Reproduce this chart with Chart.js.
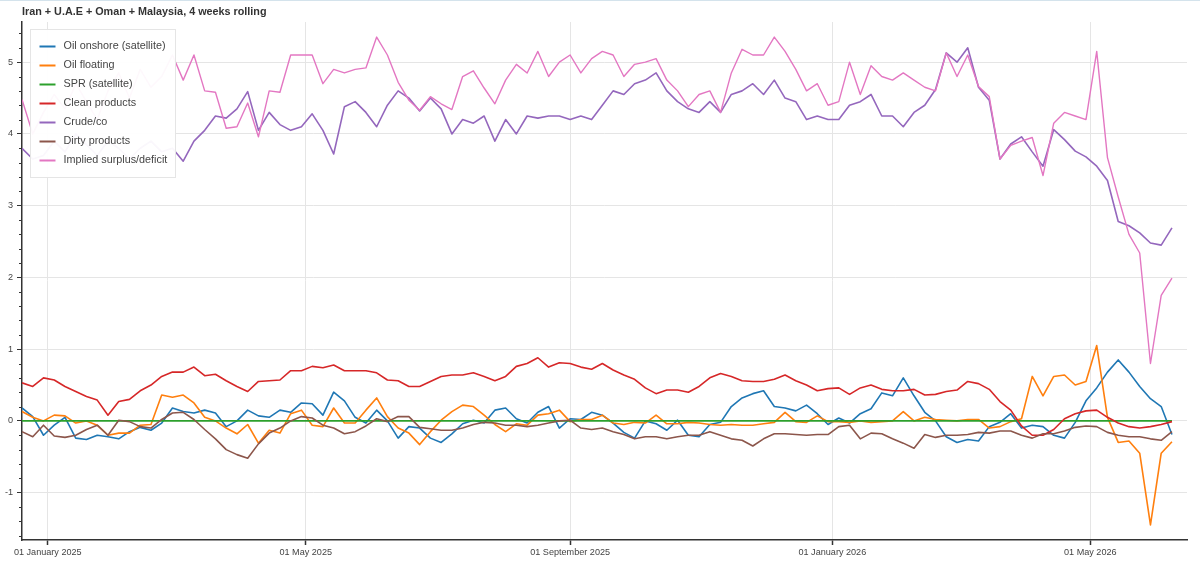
<!DOCTYPE html>
<html>
<head>
<meta charset="utf-8">
<script src="https://cdn.jsdelivr.net/npm/chart.js@4.4.1/dist/chart.umd.min.js"></script>
<style>
    html, body { margin: 0; padding: 0; background: #fff; }
    #wrap { position: relative; width: 1200px; height: 565px; }
    #topline { position: absolute; left: 0; top: 0; width: 1200px; height: 1px; background: #d4e3ec; }
</style>
</head>
<body>
<div id="wrap">
    <canvas id="chart"></canvas>
    <div id="topline"></div>
</div>
<script>
// Dates: one point every 5 days, first point 20 Dec 2024 (day -12 from 01 Jan 2025)
const startDay = -12;
const dayStep = 5;

const tickDays = [0, 120, 243, 365, 485];
const tickLabels = ["01 January 2025", "01 May 2025", "01 September 2025", "01 January 2026", "01 May 2026"];
const yTicks = [-1, 0, 1, 2, 3, 4, 5];

const seriesNames = ["Oil onshore (satellite)", "Oil floating", "SPR (satellite)", "Clean products",
    "Crude/co", "Dirty products", "Implied surplus/deficit"];
const seriesColors = ["#1f77b4", "#ff7f0e", "#2ca02c", "#d62728", "#9467bd", "#8c564b", "#e377c2"];

const oilOnshore = [
    0.18, 0.06, -0.2, -0.06, 0.05, -0.24, -0.26, -0.2, -0.22, -0.25,
    -0.15, -0.09, -0.13, -0.03, 0.18, 0.13, 0.11, 0.15, 0.11, -0.08,
    0.0, 0.15, 0.07, 0.05, 0.15, 0.12, 0.25, 0.24, 0.08, 0.4,
    0.28, 0.05, -0.03, 0.15, 0.0, -0.24, -0.08, -0.1, -0.24, -0.3,
    -0.18, -0.04, 0.01, -0.03, 0.15, 0.18, 0.03, -0.03, 0.12, 0.2,
    -0.1, 0.03, 0.02, 0.12, 0.08, -0.03, -0.16, -0.24, 0.0, -0.04,
    -0.13, 0.01, -0.2, -0.22, -0.05, -0.02, 0.2, 0.32, 0.38, 0.42,
    0.2, 0.18, 0.14, 0.22, 0.1, -0.05, 0.04, -0.03, 0.1, 0.17,
    0.39, 0.35, 0.6, 0.35, 0.12, 0.0, -0.22, -0.3, -0.26, -0.28,
    -0.08, -0.02, 0.1, -0.1, -0.06, -0.08, -0.2, -0.24, -0.02, 0.28,
    0.46, 0.68, 0.85, 0.68, 0.48, 0.31, 0.2, -0.19
];

const oilFloating = [
    0.13, 0.05, 0.0, 0.08, 0.07, -0.03, 0.0, -0.06, -0.2, -0.17,
    -0.17, -0.06, -0.05, 0.36, 0.33, 0.36, 0.25, 0.05, 0.0, -0.1,
    -0.18, -0.05, -0.31, -0.13, -0.17, 0.1, 0.15, -0.06, -0.08, 0.18,
    -0.03, -0.03, 0.15, 0.32, 0.06, -0.1, -0.17, -0.33, -0.15, 0.01,
    0.13, 0.22, 0.2, 0.08, -0.05, -0.15, -0.04, -0.06, 0.08, 0.1,
    0.15, -0.01, 0.02, 0.02, 0.08, -0.03, -0.05, -0.02, -0.03, 0.08,
    -0.04, -0.04, -0.02, -0.03, -0.05, -0.06, -0.05, -0.06, -0.06, -0.04,
    -0.02, 0.12, -0.01, -0.02, 0.07, -0.01, -0.01, -0.02, 0.0, -0.02,
    -0.01, 0.0, 0.13, 0.0, 0.05, 0.02, 0.01, 0.0, 0.02, 0.02,
    -0.1, -0.08, -0.01, 0.03, 0.62, 0.35, 0.62, 0.64, 0.5, 0.55,
    1.05, 0.05, -0.3, -0.28, -0.45, -1.45, -0.45, -0.29
];

const sprSatellite = [
    0, 0, 0, 0, 0, 0, 0, 0, 0, 0,
    0, 0, 0, 0, 0, 0, 0, 0, 0, 0,
    0, 0, 0, 0, 0, 0, 0, 0, 0, 0,
    0, 0, 0, 0, 0, 0, 0, 0, 0, 0,
    0, 0, 0, 0, 0, 0, 0, 0, 0, 0,
    0, 0, 0, 0, 0, 0, 0, 0, 0, 0,
    0, 0, 0, 0, 0, 0, 0, 0, 0, 0,
    0, 0, 0, 0, 0, 0, 0, 0, 0, 0,
    0, 0, 0, 0, 0, 0, 0, 0, 0, 0,
    0, 0, 0, 0, 0, 0, 0, 0, 0, 0,
    0, 0, 0, 0, 0, 0, 0, 0
];

const cleanProducts = [
    0.53, 0.48, 0.6, 0.57, 0.48, 0.41, 0.34, 0.29, 0.08, 0.27,
    0.3, 0.42, 0.5, 0.62, 0.68, 0.68, 0.75, 0.63, 0.65, 0.56,
    0.48, 0.41, 0.55, 0.56, 0.57, 0.7, 0.7, 0.76, 0.74, 0.78,
    0.7, 0.7, 0.7, 0.67, 0.57, 0.56, 0.48, 0.48, 0.55, 0.62,
    0.64, 0.64, 0.67, 0.62, 0.56, 0.62, 0.76, 0.8, 0.88, 0.75,
    0.81, 0.8, 0.75, 0.72, 0.8, 0.71, 0.64, 0.58, 0.46, 0.38,
    0.43, 0.43, 0.4, 0.48, 0.6, 0.66, 0.62, 0.56, 0.55, 0.55,
    0.58, 0.64, 0.56, 0.5, 0.42, 0.45, 0.46, 0.37, 0.46, 0.5,
    0.44, 0.42, 0.42, 0.44, 0.36, 0.37, 0.41, 0.43, 0.55, 0.52,
    0.44, 0.27, 0.15, -0.07, -0.2, -0.2, -0.12, 0.03, 0.1, 0.14,
    0.15, 0.05, -0.03, -0.08, -0.1, -0.08, -0.05, -0.01
];

const crudeCo = [
    3.8, 3.65, 3.7, 3.9, 3.75, 4.0, 3.85, 3.7, 3.9, 3.8,
    3.65, 3.8, 3.9, 3.75, 3.8, 3.62, 3.9, 4.05, 4.25, 4.22,
    4.35, 4.59, 4.05, 4.3, 4.13, 4.05, 4.1, 4.28, 4.05, 3.72,
    4.38, 4.45, 4.3, 4.1, 4.4, 4.6, 4.5, 4.32, 4.5, 4.35,
    4.0, 4.2, 4.15, 4.25, 3.9, 4.2, 4.0, 4.25, 4.22, 4.25,
    4.25, 4.2, 4.25, 4.2, 4.4, 4.6, 4.55, 4.7, 4.75, 4.85,
    4.6, 4.45, 4.35, 4.3, 4.45, 4.3, 4.55, 4.6, 4.7, 4.55,
    4.75, 4.5, 4.45, 4.2, 4.25, 4.2, 4.2, 4.4, 4.45, 4.55,
    4.25, 4.25, 4.1, 4.3, 4.4, 4.62, 5.13, 5.0, 5.2, 4.65,
    4.47, 3.65, 3.86, 3.96, 3.75, 3.55, 4.06, 3.92, 3.76, 3.68,
    3.55, 3.35, 2.78, 2.72, 2.62, 2.48, 2.45, 2.69
];

const dirtyProducts = [
    -0.15, -0.22, -0.06, -0.21, -0.23, -0.2, -0.12, -0.06, -0.2, 0.01,
    -0.01, -0.08, -0.1, 0.02, 0.11, 0.12, 0.02, -0.12, -0.25, -0.4,
    -0.47, -0.52, -0.32, -0.17, -0.1, 0.0, 0.06, 0.04, -0.06, -0.1,
    -0.18, -0.15, -0.07, 0.03, -0.01, 0.06, 0.06, -0.09, -0.11, -0.13,
    -0.13, -0.1, -0.05, -0.02, -0.03, -0.06, -0.06, -0.08, -0.06, -0.03,
    0.0, 0.01, -0.1, -0.12, -0.1, -0.15, -0.19, -0.25, -0.22, -0.22,
    -0.25, -0.22, -0.2, -0.2, -0.15, -0.2, -0.25, -0.27, -0.35, -0.25,
    -0.18, -0.18, -0.19, -0.2, -0.19, -0.19, -0.08, -0.06, -0.25, -0.17,
    -0.18, -0.25, -0.31, -0.38, -0.19, -0.23, -0.2, -0.2, -0.19, -0.16,
    -0.17, -0.14, -0.14, -0.2, -0.24, -0.18, -0.18, -0.14, -0.09, -0.07,
    -0.08, -0.16, -0.2, -0.22, -0.22, -0.25, -0.27, -0.15
];

const impliedSurplus = [
    4.48, 4.0, 4.3, 4.55, 4.35, 4.7, 4.45, 4.2, 4.6, 4.85,
    4.5, 4.9, 4.65, 4.8, 5.1, 4.75, 5.1, 4.6, 4.58, 4.08,
    4.1, 4.43, 3.96, 4.6, 4.58, 5.1, 5.1, 5.1, 4.7, 4.9,
    4.85, 4.9, 4.92, 5.35, 5.1, 4.72, 4.47, 4.33, 4.52, 4.42,
    4.34, 4.8, 4.88, 4.64, 4.42, 4.75, 4.97, 4.85, 5.15, 4.8,
    5.0, 5.1, 4.85, 5.05, 5.15, 5.1, 4.8, 4.97, 5.0, 5.05,
    4.75, 4.6, 4.38, 4.55, 4.6, 4.3, 4.85, 5.18, 5.1, 5.1,
    5.35, 5.15, 4.9, 4.6, 4.7, 4.4, 4.45, 5.0, 4.55, 4.95,
    4.8, 4.75, 4.85, 4.75, 4.65, 4.6, 5.13, 4.8, 5.1, 4.66,
    4.52, 3.65, 3.84, 3.9, 3.95, 3.42, 4.15, 4.3, 4.25, 4.2,
    5.15, 3.67, 3.12, 2.6, 2.34, 0.8, 1.75, 1.99
];

const allSeries = [oilOnshore, oilFloating, sprSatellite, cleanProducts, crudeCo, dirtyProducts, impliedSurplus];

const fontFamily = "'Liberation Sans', Arial, Helvetica, sans-serif";
const axisColor = "#333";
const textColor = "#444";
const gridColor = "#e5e5e5";

function toPoints(values) {
    return values.map((v, i) => ({ x: startDay + i * dayStep, y: v }));
}

// Minor y ticks, the legend box and the title, drawn like the original
const overlayPlugin = {
    id: "overlay",
    afterDraw(chart) {
        const ctx = chart.ctx;
        const area = chart.chartArea;
        const y = chart.scales.y;
        ctx.save();

        ctx.strokeStyle = axisColor;
        ctx.lineWidth = 1;
        for (let k = -8; k <= 27; k++) {
            if (k % 5 === 0) continue;
            const py = Math.round(y.getPixelForValue(k / 5)) + 0.5;
            ctx.beginPath();
            ctx.moveTo(area.left - 3, py);
            ctx.lineTo(area.left, py);
            ctx.stroke();
        }

        // legend
        const lx = area.left + 8.5, ly = area.top + 7.5, lw = 145, lh = 148;
        ctx.fillStyle = "rgba(255,255,255,0.95)";
        ctx.fillRect(lx, ly, lw, lh);
        ctx.strokeStyle = gridColor;
        ctx.strokeRect(lx, ly, lw, lh);
        ctx.font = "10.8px " + fontFamily;
        ctx.textBaseline = "middle";
        seriesNames.forEach((name, i) => {
            const ry = ly + 17 + i * 19;
            ctx.strokeStyle = seriesColors[i];
            ctx.lineWidth = 2;
            ctx.beginPath();
            ctx.moveTo(lx + 9, ry);
            ctx.lineTo(lx + 25, ry);
            ctx.stroke();
            ctx.fillStyle = textColor;
            ctx.fillText(name, lx + 33, ry);
        });

        // title
        ctx.font = "bold 10.8px " + fontFamily;
        ctx.fillStyle = "#333";
        ctx.textBaseline = "middle";
        ctx.fillText("Iran + U.A.E + Oman + Malaysia, 4 weeks rolling", area.left, 12);

        ctx.restore();
    }
};

const datasets = allSeries.map((values, i) => ({
    label: seriesNames[i],
    data: toPoints(values),
    borderColor: seriesColors[i],
    backgroundColor: seriesColors[i],
    borderWidth: i === 6 ? 1.4 : 1.6,
    pointRadius: 0,
    tension: 0,
    borderJoinStyle: "round",
    order: 6 - i
}));

new Chart(document.getElementById("chart"), {
    type: "line",
    data: { datasets: datasets },
    plugins: [overlayPlugin],
    options: {
        responsive: true,
        maintainAspectRatio: false,
        animation: false,
        devicePixelRatio: 1,
        layout: { padding: { top: 22, right: 13, left: 0, bottom: 0 } },
        plugins: {
            legend: { display: false },
            title: { display: false },
            tooltip: { enabled: false }
        },
        scales: {
            x: {
                type: "linear",
                min: -12,
                max: 530,
                afterBuildTicks: (scale) => { scale.ticks = tickDays.map(v => ({ value: v })); },
                afterFit: (scale) => { scale.height = 25; },
                grid: { color: gridColor, tickColor: axisColor, tickLength: 5, tickWidth: 1.5 },
                border: { display: true, color: axisColor, width: 1.5 },
                ticks: {
                    autoSkip: false,
                    maxRotation: 0,
                    padding: 2,
                    color: textColor,
                    font: { family: fontFamily, size: 9.1 },
                    callback: (value) => tickLabels[tickDays.indexOf(value)]
                }
            },
            y: {
                min: -1.66,
                max: 5.56,
                afterBuildTicks: (scale) => { scale.ticks = yTicks.map(v => ({ value: v })); },
                afterFit: (scale) => { scale.width = 22; },
                grid: { color: gridColor, tickColor: axisColor, tickLength: 5, tickWidth: 1 },
                border: { display: true, color: axisColor, width: 1.5 },
                ticks: {
                    padding: 4,
                    color: textColor,
                    font: { family: fontFamily, size: 9.1 }
                }
            }
        }
    }
});
</script>
</body>
</html>
